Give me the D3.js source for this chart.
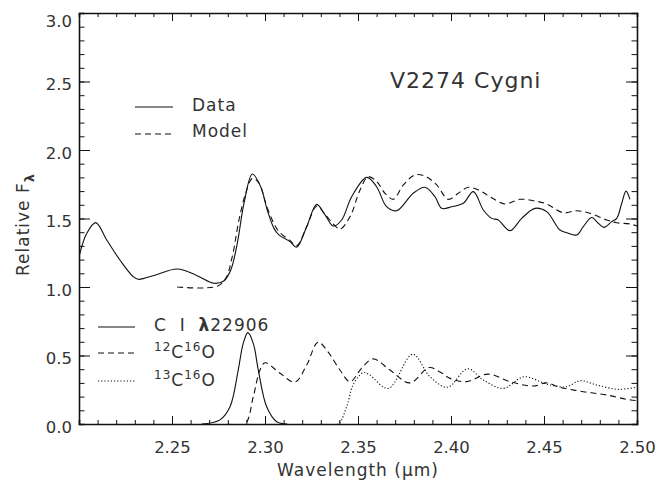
<!DOCTYPE html>
<html>
<head>
<meta charset="UTF-8">
<title>V2274 Cygni</title>
<script src="https://d3js.org/d3.v7.min.js"></script>
<style>
  body { margin: 0; background: #fff; }
  svg { display: block; font-family: "DejaVu Sans", sans-serif; }
  .axis path, .axis line { stroke: #111; }
  .axis path { stroke-width: 1.6; }
  .axis text { font-size: 16.5px; fill: #333; font-family: "DejaVu Sans", sans-serif; }
  .lab { font-size: 17px; fill: #333; letter-spacing: 1px; }
</style>
</head>
<body>
<svg width="659" height="482"></svg>
<script>
// observed spectrum
const dataWl = [2.200, 2.2041, 2.209, 2.2149, 2.222, 2.2292, 2.2319, 2.2412, 2.2528, 2.2627, 2.2726, 2.278, 2.2816, 2.2851, 2.2887, 2.2932, 2.2977, 2.3012, 2.3048, 2.3075, 2.3134, 2.317, 2.3224, 2.3278, 2.3323, 2.3367, 2.3412, 2.3466, 2.3547, 2.360, 2.3654, 2.3708, 2.3797, 2.386, 2.3914, 2.395, 2.4004, 2.4066, 2.412, 2.4174, 2.4219, 2.4254, 2.4317, 2.438, 2.4452, 2.4514, 2.4586, 2.4622, 2.4676, 2.4711, 2.4756, 2.4792, 2.4823, 2.4864, 2.4891, 2.4918, 2.4941, 2.4962];
const dataFlux = [1.22, 1.39, 1.47, 1.343, 1.197, 1.075, 1.056, 1.088, 1.131, 1.088, 1.027, 1.046, 1.124, 1.319, 1.611, 1.825, 1.732, 1.562, 1.428, 1.38, 1.331, 1.29, 1.44, 1.603, 1.526, 1.445, 1.489, 1.659, 1.80, 1.732, 1.586, 1.557, 1.684, 1.728, 1.659, 1.574, 1.586, 1.611, 1.696, 1.562, 1.501, 1.489, 1.411, 1.501, 1.574, 1.55, 1.416, 1.396, 1.38, 1.44, 1.507, 1.465, 1.435, 1.477, 1.501, 1.611, 1.70, 1.64];

// synthetic model
const modelWl = [2.2528, 2.2743, 2.2789, 2.2824, 2.286, 2.2896, 2.2932, 2.2968, 2.3004, 2.3039, 2.3075, 2.3134, 2.317, 2.3224, 2.3278, 2.3323, 2.3367, 2.3403, 2.3457, 2.3511, 2.3555, 2.3601, 2.3645, 2.369, 2.3744, 2.3806, 2.386, 2.3923, 2.3985, 2.4039, 2.4093, 2.4156, 2.421, 2.429, 2.4371, 2.4442, 2.4514, 2.4604, 2.4676, 2.4747, 2.4837, 2.4891, 2.4962, 2.500];
const modelFlux = [1.0, 1.005, 1.063, 1.221, 1.489, 1.684, 1.793, 1.757, 1.611, 1.489, 1.404, 1.34, 1.30, 1.44, 1.59, 1.53, 1.46, 1.423, 1.513, 1.708, 1.805, 1.769, 1.684, 1.64, 1.745, 1.818, 1.81, 1.745, 1.64, 1.684, 1.728, 1.703, 1.659, 1.606, 1.64, 1.63, 1.606, 1.542, 1.557, 1.538, 1.489, 1.469, 1.46, 1.445];

// components
const ciWl = [2.266, 2.2758, 2.2812, 2.2856, 2.2883, 2.2908, 2.2937, 2.2964, 2.3009, 2.3063, 2.312];
const ciFlux = [0.0, 0.03, 0.126, 0.394, 0.589, 0.667, 0.589, 0.394, 0.126, 0.017, 0.0];

const co12Wl = [2.280, 2.2892, 2.2937, 2.2973, 2.300, 2.3081, 2.3161, 2.3224, 2.3285, 2.3337, 2.3403, 2.3457, 2.3521, 2.3581, 2.3672, 2.3779, 2.3882, 2.3941, 2.3995, 2.4084, 2.4199, 2.4317, 2.4442, 2.4514, 2.4586, 2.4711, 2.4837, 2.4945, 2.500];
const co12Flux = [0.0, 0.0, 0.2, 0.394, 0.447, 0.37, 0.306, 0.43, 0.597, 0.53, 0.394, 0.309, 0.41, 0.475, 0.394, 0.30, 0.412, 0.38, 0.333, 0.309, 0.364, 0.309, 0.277, 0.30, 0.268, 0.236, 0.212, 0.18, 0.17];

const co13Wl = [2.330, 2.3392, 2.3439, 2.3475, 2.3528, 2.356, 2.3663, 2.3794, 2.3887, 2.3981, 2.4089, 2.4174, 2.4281, 2.4392, 2.4496, 2.4532, 2.4622, 2.4694, 2.4783, 2.4898, 2.500];
const co13Flux = [0.0, 0.0, 0.126, 0.29, 0.375, 0.36, 0.26, 0.509, 0.345, 0.268, 0.403, 0.321, 0.26, 0.345, 0.30, 0.285, 0.272, 0.316, 0.285, 0.253, 0.27];

const xMajor = [2.25, 2.30, 2.35, 2.40, 2.45, 2.50];
const yMajor = [0.0, 0.5, 1.0, 1.5, 2.0, 2.5, 3.0];

const svg = d3.select("svg");
const margin = {top: 13, right: 22, bottom: 58, left: 79};
const W = 659, H = 482;

const x = d3.scaleLinear().domain([2.2, 2.5]).range([margin.left, W - margin.right]);
const y = d3.scaleLinear().domain([0, 3]).range([H - margin.bottom, margin.top]);

const xMinor = d3.range(2.20, 2.5001, 0.01).map(v => +v.toFixed(2));
const yMinor = d3.range(0, 3.0001, 0.1).map(v => +v.toFixed(1));

svg.append("clipPath").attr("id", "clip").append("rect")
  .attr("x", x(2.2)).attr("y", y(3)).attr("width", x(2.5) - x(2.2)).attr("height", y(0) - y(3));

const line = d3.line()
  .x(d => x(d[0]))
  .y(d => y(d[1]))
  .curve(d3.curveCatmullRom.alpha(0.5));

const plot = svg.append("g").attr("clip-path", "url(#clip)");

function drawSeries(wl, fl, dash) {
  plot.append("path")
    .datum(d3.zip(wl, fl))
    .attr("fill", "none")
    .attr("stroke", "#111")
    .attr("stroke-width", 1.1)
    .attr("stroke-dasharray", dash)
    .attr("d", line);
}
drawSeries(modelWl, modelFlux, "6,4");
drawSeries(dataWl, dataFlux, null);
drawSeries(ciWl, ciFlux, null);
drawSeries(co12Wl, co12Flux, "6,4");
drawSeries(co13Wl, co13Flux, "1.2,2");

// axes, ticks pointing inward on all four sides
const gBottom = svg.append("g").attr("class", "axis").attr("transform", `translate(0,${y(0)})`);
gBottom.call(d3.axisBottom(x).tickValues(xMinor).tickSize(-4).tickFormat(""));
gBottom.append("g").call(d3.axisBottom(x).tickValues(xMajor).tickSize(-8).tickFormat(d3.format(".2f")))
  .call(g => g.select(".domain").remove())
  .selectAll("text").attr("y", 29).attr("dy", null);

const gTop = svg.append("g").attr("class", "axis").attr("transform", `translate(0,${y(3)})`);
gTop.call(d3.axisTop(x).tickValues(xMinor).tickSize(-4).tickFormat(""));
gTop.append("g").call(d3.axisTop(x).tickValues(xMajor).tickSize(-8).tickFormat(""))
  .call(g => g.select(".domain").remove());

const gLeft = svg.append("g").attr("class", "axis").attr("transform", `translate(${x(2.2)},0)`);
gLeft.call(d3.axisLeft(y).tickValues(yMinor).tickSize(-5.5).tickFormat(""));
gLeft.append("g").call(d3.axisLeft(y).tickValues(yMajor).tickSize(-11).tickPadding(7).tickFormat(d3.format(".1f")))
  .call(g => g.select(".domain").remove())
  .selectAll("text").attr("y", d => Math.max(y(d) + 3, 21) - y(d));

const gRight = svg.append("g").attr("class", "axis").attr("transform", `translate(${x(2.5)},0)`);
gRight.call(d3.axisRight(y).tickValues(yMinor).tickSize(-5.5).tickFormat(""));
gRight.append("g").call(d3.axisRight(y).tickValues(yMajor).tickSize(-11).tickFormat(""))
  .call(g => g.select(".domain").remove());

svg.selectAll(".axis .tick line").attr("stroke-width", 1);

// axis titles
svg.append("text").attr("class", "lab")
  .attr("x", (x(2.2) + x(2.5)) / 2).attr("y", 476).attr("text-anchor", "middle")
  .text("Wavelength (\u03bcm)");

const yt = svg.append("text").attr("class", "lab")
  .attr("transform", `translate(29,${(y(0) + y(3)) / 2 + 6}) rotate(-90)`)
  .attr("text-anchor", "middle");
yt.append("tspan").text("Relative F");
yt.append("tspan").attr("dy", 5).attr("font-size", 13).attr("font-weight", "bold").text("\u03bb");

svg.append("text").attr("class", "lab")
  .attr("x", 390).attr("y", 88)
  .style("font-size", "22px").style("letter-spacing", "1px")
  .text("V2274 Cygni");

// legends
function legendRow(x0, x1, yLine, tx, yText, dash, build) {
  svg.append("line")
    .attr("x1", x0).attr("x2", x1).attr("y1", yLine).attr("y2", yLine)
    .attr("stroke", "#111").attr("stroke-width", 1.1)
    .attr("stroke-dasharray", dash);
  const t = svg.append("text").attr("class", "lab").attr("x", tx).attr("y", yText);
  build(t);
}

legendRow(135, 173, 107, 192, 111, null, t => t.text("Data"));
legendRow(135, 173, 134, 192, 137, "6,4", t => t.text("Model"));

legendRow(98, 135, 327, 154, 331, null, t => {
  t.attr("xml:space", "preserve");
  t.append("tspan").text("C  I  ");
  t.append("tspan").attr("font-weight", "600").text("\u03bb");
  t.append("tspan").text("22906");
});
function isotope(t, a) {
  t.append("tspan").attr("font-size", 12).attr("dy", -7).text(a);
  t.append("tspan").attr("dy", 7).text("C");
  t.append("tspan").attr("font-size", 12).attr("dy", -7).text("16");
  t.append("tspan").attr("dy", 7).text("O");
}
legendRow(98, 135, 353, 154, 358, "6,4", t => isotope(t, "12"));
legendRow(98, 135, 381, 154, 386, "1.2,2", t => isotope(t, "13"));
</script>
</body>
</html>
